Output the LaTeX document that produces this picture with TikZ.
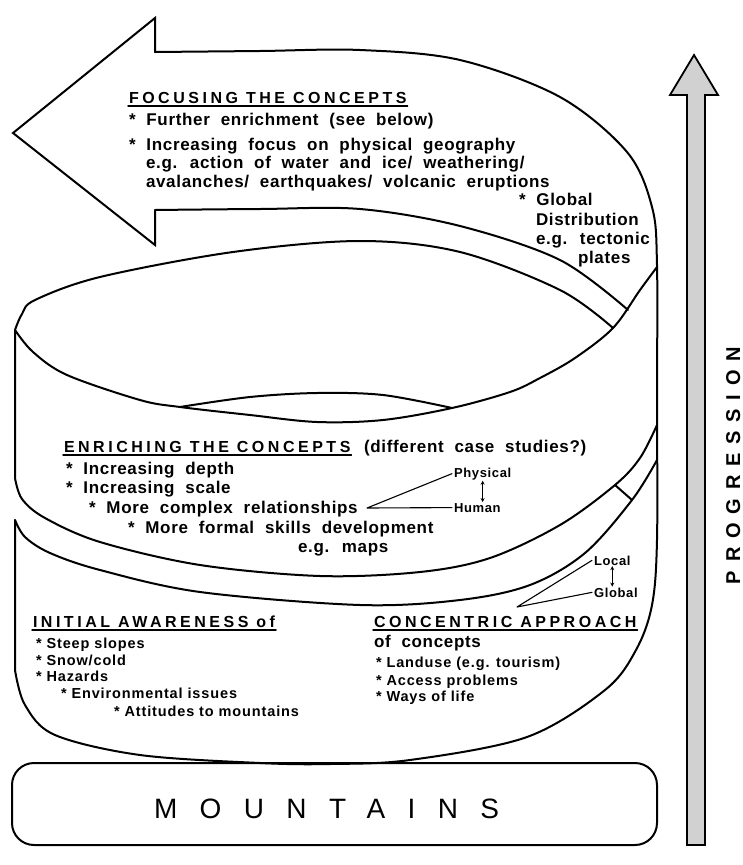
\documentclass[tikz,border=0pt]{standalone}
\usepackage{fontspec}
\setmainfont{Liberation Sans}
\newfontfamily\bodyfont[LetterSpace=4,WordSpace=2]{Liberation Sans}
\newfontfamily\headfont[LetterSpace=22]{Liberation Sans}
\newfontfamily\smallfont[LetterSpace=6]{Liberation Sans}
\newfontfamily\labfont[LetterSpace=5]{Liberation Sans}
\newfontfamily\bigfont[LetterSpace=80]{Liberation Sans}
\newfontfamily\progfont[LetterSpace=44]{Liberation Sans}
\usetikzlibrary{arrows.meta}
\begin{document}
\begin{tikzpicture}[x=1pt,y=-1pt,line width=2pt,line join=round,line cap=round,
  hd/.style={anchor=base west,inner sep=0pt,font=\headfont\bfseries\fontsize{16}{19}\selectfont},
  bd/.style={anchor=base west,inner sep=0pt,font=\bodyfont\bfseries\fontsize{17}{20}\selectfont},
  sm/.style={anchor=base west,inner sep=0pt,font=\smallfont\bfseries\fontsize{14.5}{17}\selectfont},
  lb/.style={anchor=base west,inner sep=0pt,font=\labfont\bfseries\fontsize{13}{15}\selectfont},
  uline/.style={line width=1.4pt},
  thinline/.style={line width=1.1pt},
  dblarrow/.style={line width=1pt,{Stealth[length=4pt,width=4pt]}-{Stealth[length=4pt,width=4pt]}}]
\useasboundingbox (0,0) rectangle (743,865);
\fill[white] (0,0) rectangle (743,865);

% ---- spiral ribbon ----
% arrow head of the top band
\draw[line join=miter] (155,52) -- (155,18) -- (13,133) -- (155,245) -- (155,210);
% outer edge: top of band, right side, bottom of lowest band
\draw plot[smooth,tension=0.55] coordinates {(155,52) (260,51) (360,50) (460,60) (560,97) (627,152) (652,207) (657,265) (657,400) (657,540) (652,605) (636,650) (605,690) (527,737) (410,760) (330,764) (260,763) (140,755) (55,735) (25,705) (15,670)} -- (15,520);
% lower edge of the arrow band
\draw plot[smooth,tension=0.55] coordinates {(155,210) (260,209) (360,209) (460,226) (560,260) (628,310)};
% back rim of the cylinder
\draw plot[smooth,tension=0.55] coordinates {(15,330) (22,314) (35,300) (100,277) (233,252) (360,241) (460,252) (560,290) (613,328)};
% front rim
\draw plot[smooth,tension=0.55] coordinates {(657,267) (640,290) (613,328) (575,358) (540,378) (510,392) (452,408) (383,420) (317,422) (250,415) (180,407) (140,400) (67,375) (33,352) (15,330)};
\draw plot[smooth,tension=0.55] coordinates {(180,407) (250,397) (317,393) (383,395) (452,408)};
% lower edge of the middle band
\draw (15,330) -- plot[smooth,tension=0.55] coordinates {(15,478) (22,499) (45,518) (100,542) (200,565) (320,576) (420,572) (490,558) (560,525) (615,485) (640,458) (657,425)};
% upper edge of the lowest band
\draw plot[smooth,tension=0.55] coordinates {(15,520) (25,537) (50,553) (100,570) (200,592) (360,605) (460,600) (530,585) (585,553) (632,500) (657,460)};
\draw (615,485) -- (632,500);

% ---- base ----
\draw[rounded corners=22pt] (12,763) rectangle (657,845);
\node[anchor=base west,inner sep=0pt,font=\bigfont\fontsize{28}{30}\selectfont] (mt) at (153,818) {MOUNTAINS};

% ---- progression arrow ----
\draw[fill=black!18,line width=1.8pt,line join=miter] (687,845) -- (687,95) -- (670,95) -- (694,55) -- (718,95) -- (705,95) -- (705,845) -- cycle;
\node[anchor=base west,rotate=90,inner sep=0pt,font=\progfont\bfseries\fontsize{20}{22}\selectfont] (pg) at (740,585) {PROGRESSION};

% ---- focusing ----
\node[hd] (f0) at (128,103) {FOCUSING THE CONCEPTS};
\draw[uline] ([yshift=-3pt]f0.base west) -- ([yshift=-3pt]f0.base east);
\node[bd] (f1) at (128,125) {* Further enrichment (see below)};
\node[bd] (f2) at (128,150) {* Increasing focus on physical geography};
\node[bd] (f3) at (145,168) {e.g. action of water and ice/ weathering/};
\node[bd] (f4) at (145,187) {avalanches/ earthquakes/ volcanic eruptions};
\node[bd] (f5) at (518,205) {* Global};
\node[bd] (f6) at (535,225) {Distribution};
\node[bd] (f7) at (535,244) {e.g. tectonic};
\node[bd] (f8) at (577,263) {plates};

% ---- enriching ----
\node[hd] (e0) at (63,452) {ENRICHING THE CONCEPTS};
\draw[uline] ([yshift=-3pt]e0.base west) -- ([yshift=-3pt]e0.base east);
\node[bd] (e0b) at (363,452) {(different case studies?)};
\node[bd] (e1) at (65,474) {* Increasing depth};
\node[bd] (e2) at (65,493) {* Increasing scale};
\node[bd] (e3) at (88,513) {* More complex relationships};
\node[bd] (e4) at (127,533) {* More formal skills development};
\node[bd] (e5) at (297,552) {e.g. maps};
\node[lb] (phys) at (453,477) {Physical};
\node[lb] (hum) at (453,512) {Human};
\coordinate (jr) at (367,508);
\draw[thinline] ([xshift=-1pt]phys.west) -- (jr) -- ([xshift=-1pt]hum.west);
\draw[dblarrow] (phys.south) -- (phys.south |- hum.north);

% ---- initial awareness ----
\node[hd] (i0) at (32,627) {INITIAL AWARENESS of};
\draw[uline] ([yshift=-3pt]i0.base west) -- ([yshift=-3pt]i0.base east);
\node[sm] (i1) at (35,648) {* Steep slopes};
\node[sm] (i2) at (35,665) {* Snow/cold};
\node[sm] (i3) at (35,681) {* Hazards};
\node[sm] (i4) at (60,698) {* Environmental issues};
\node[sm] (i5) at (113,716) {* Attitudes to mountains};

% ---- concentric approach ----
\node[hd] (c0) at (373,627) {CONCENTRIC APPROACH};
\draw[uline] ([yshift=-3pt]c0.base west) -- ([yshift=-3pt]c0.base east);
\node[bd] (c1) at (373,647) {of concepts};
\node[sm] (c2) at (375,667) {* Landuse (e.g. tourism)};
\node[sm] (c3) at (375,685) {* Access problems};
\node[sm] (c4) at (375,701) {* Ways of life};
\node[lb] (loc) at (593,565) {Local};
\node[lb] (glo) at (593,597) {Global};
\coordinate (jc) at (517,607);
\draw[thinline] ([xshift=-1pt]loc.west) -- (jc) -- ([xshift=-1pt]glo.west);
\draw[dblarrow] (loc.south) -- (loc.south |- glo.north);
\end{tikzpicture}
\end{document}
